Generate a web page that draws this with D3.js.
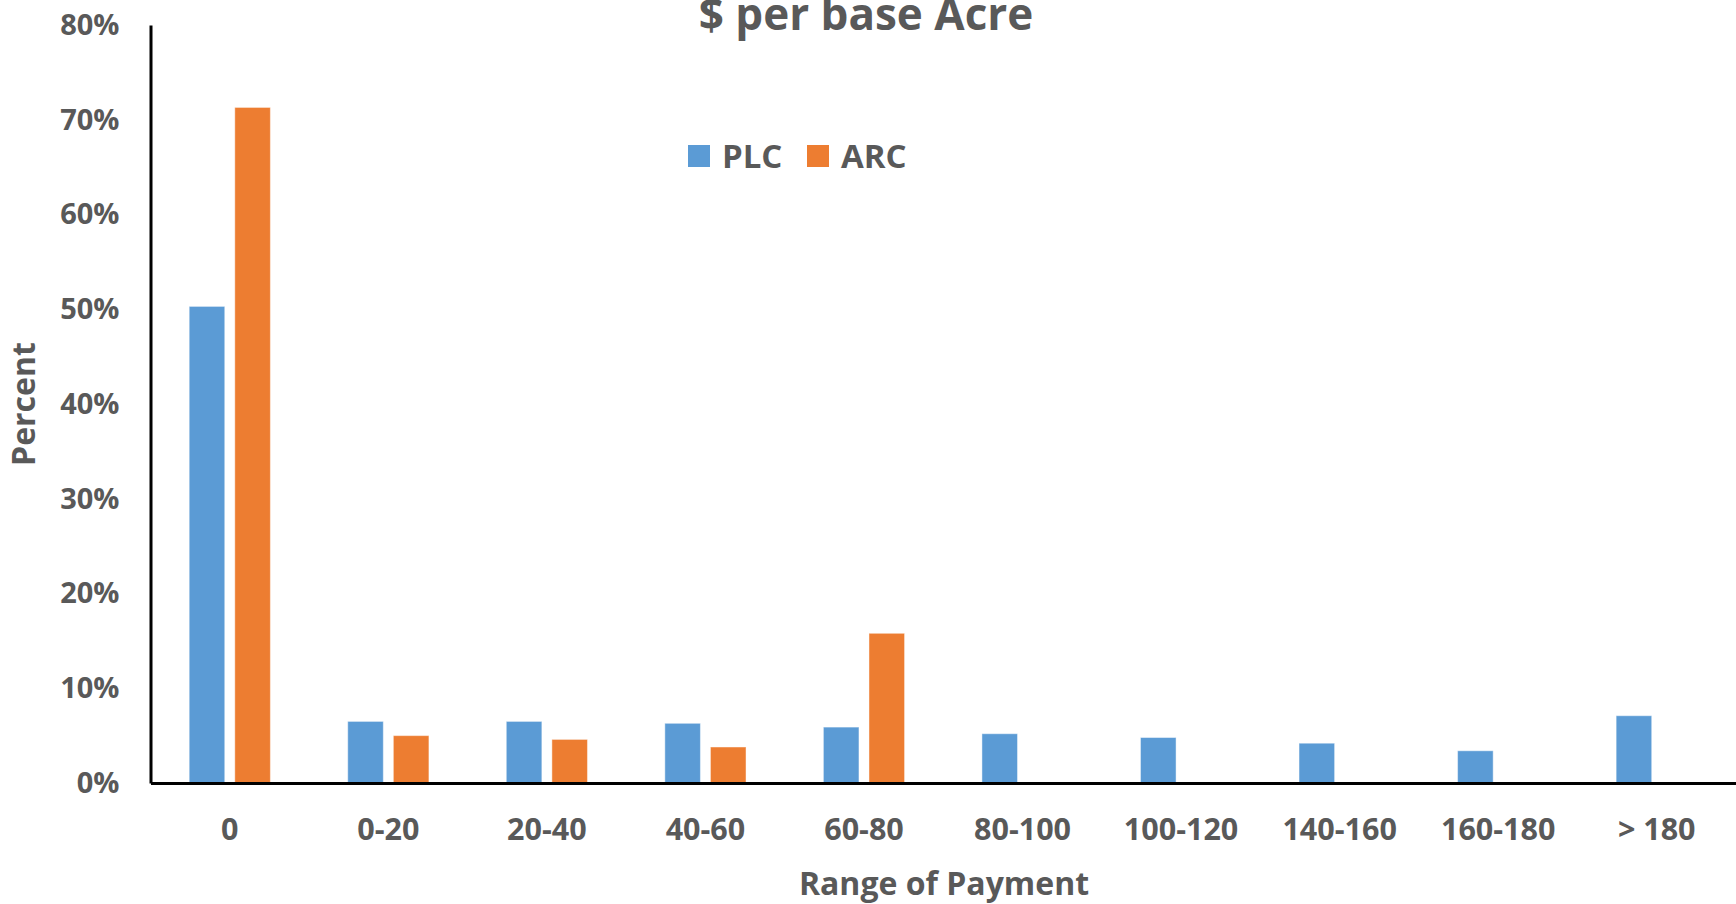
<!DOCTYPE html>
<html>
<head>
<meta charset="utf-8">
<script src="https://cdn.jsdelivr.net/npm/d3@7"></script>
<style>
  html, body { margin: 0; padding: 0; background: #ffffff; }
  svg { display: block; }
  text { font-family: "Open Sans", "DejaVu Sans", sans-serif; font-weight: bold; fill: #595959; }
</style>
</head>
<body>
<svg id="chart" width="1736" height="904"></svg>
<script>
// Share of acres by payment range ($ per base acre)
const categories = ["0", "0-20", "20-40", "40-60", "60-80", "80-100", "100-120", "140-160", "160-180", "> 180"];
const seriesNames = ["PLC", "ARC"];
const plcValues = [0.503, 0.065, 0.065, 0.063, 0.059, 0.052, 0.048, 0.042, 0.034, 0.071];
const arcValues = [0.713, 0.050, 0.046, 0.038, 0.158, 0, 0, 0, 0, 0];
const yTicks = [0, 0.1, 0.2, 0.3, 0.4, 0.5, 0.6, 0.7, 0.8];
const colors = { PLC: "#5B9BD5", ARC: "#ED7D31" };

const svg = d3.select("#chart");
const plot = { left: 150.5, right: 1736, top: 25, bottom: 783 };

const x0 = d3.scaleBand().domain(categories).range([plot.left, plot.right]).padding(0);
const bw = x0.bandwidth();
const clusterW = bw * 0.512;
const x1 = d3.scaleBand().domain(seriesNames)
  .range([(bw - clusterW) / 2, (bw + clusterW) / 2]).paddingInner(0.22);
const y = d3.scaleLinear().domain([0, 0.8]).range([plot.bottom, plot.top]);

const rows = categories.map((c, i) => ({ cat: c, PLC: plcValues[i], ARC: arcValues[i] }));

// bars
const groups = svg.append("g").selectAll("g").data(rows).join("g")
  .attr("transform", d => `translate(${x0(d.cat)},0)`);
groups.selectAll("rect")
  .data(d => seriesNames.map(s => ({ s, v: d[s] })).filter(e => e.v > 0))
  .join("rect")
  .attr("x", e => x1(e.s))
  .attr("width", x1.bandwidth())
  .attr("y", e => y(e.v))
  .attr("height", e => y(0) - y(e.v))
  .attr("fill", e => colors[e.s])
  .attr("stroke", "rgba(255,255,255,0.45)")
  .attr("stroke-width", 1);

// y axis
const yAxis = svg.append("g").attr("transform", `translate(${plot.left},0)`)
  .call(d3.axisLeft(y).tickValues(yTicks).tickFormat(d3.format(".0%")).tickSize(0).tickSizeOuter(0).tickPadding(31));
yAxis.select(".domain").attr("stroke", "#000").attr("stroke-width", 3);
yAxis.selectAll("text").style("font-size", "29px").attr("fill", "#595959");

// x axis
const xAxis = svg.append("g").attr("transform", `translate(0,${plot.bottom})`)
  .call(d3.axisBottom(x0).tickSize(0).tickSizeOuter(0).tickPadding(35));
xAxis.select(".domain").attr("stroke", "#000").attr("stroke-width", 3);
xAxis.selectAll("text").style("font-size", "30.5px").attr("fill", "#595959");

// title
svg.append("text").attr("x", 866).attr("y", 30).attr("text-anchor", "middle")
  .style("font-size", "44px").text("$ per base Acre");

// axis titles
svg.append("text").attr("x", 944).attr("y", 895).attr("text-anchor", "middle")
  .style("font-size", "32px").text("Range of Payment");
svg.append("text").attr("transform", "translate(35,404) rotate(-90)").attr("text-anchor", "middle")
  .style("font-size", "32px").text("Percent");

// legend
const legend = svg.append("g").attr("transform", "translate(688,145)");
const items = [{ s: "PLC", dx: 0 }, { s: "ARC", dx: 119 }];
const li = legend.selectAll("g").data(items).join("g").attr("transform", d => `translate(${d.dx},0)`);
li.append("rect").attr("width", 22).attr("height", 22).attr("fill", d => colors[d.s]);
li.append("text").attr("x", 34).attr("y", 22.5).style("font-size", "33px").text(d => d.s);
</script>
</body>
</html>
